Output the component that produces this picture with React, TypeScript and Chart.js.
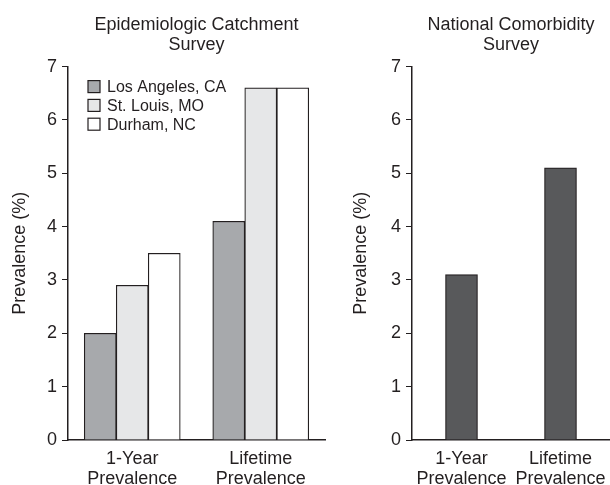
import React, { useEffect, useRef } from 'react';
import { Chart, registerables } from 'chart.js';

Chart.register(...registerables);

// ---- data ----
const categories = [['1-Year', 'Prevalence'], ['Lifetime', 'Prevalence']];
const ecaSites = ['Los Angeles, CA', 'St. Louis, MO', 'Durham, NC'];
const losAngeles = [2.0, 4.1];
const stLouis = [2.9, 6.6];
const durham = [3.5, 6.6];
const ncsLabel = 'National Comorbidity Survey';
const ncsValues = [3.1, 5.1];
const yTicks = [0, 1, 2, 3, 4, 5, 6, 7];
const ecaTitle = ['Epidemiologic Catchment', 'Survey'];
const ncsTitle = ['National Comorbidity', 'Survey'];
const yAxisTitle = 'Prevalence (%)';

// ---- style ----
const FONT = '"Liberation Sans", Arial, Helvetica, sans-serif';
const INK = '#231f20';
const ecaColors = ['#a7a9ac', '#e6e7e8', '#ffffff'];
const ncsColor = '#58595b';

const insideLegend = {
  id: 'insideLegend',
  afterDatasetsDraw(chart: any, _args: any, o: any) {
    if (!o || !o.show) return;
    const { ctx, chartArea } = chart;
    ctx.save();
    ctx.font = `16px ${FONT}`;
    ctx.textBaseline = 'middle';
    chart.data.datasets.forEach((ds: any, i: number) => {
      const cy = chartArea.top + 20 + i * 18.8;
      const x = chartArea.left + 20;
      ctx.fillStyle = ds.backgroundColor;
      ctx.fillRect(x, cy - 6, 12, 12);
      ctx.strokeStyle = INK;
      ctx.lineWidth = 1.2;
      ctx.strokeRect(x, cy - 6, 12, 12);
      ctx.fillStyle = INK;
      ctx.fillText(ds.label, x + 19, cy + 1);
    });
    ctx.restore();
  },
};

function buildOptions(title: string[], yWidth: number, yTitlePad: number, padRight: number, legend: boolean): any {
  return {
    responsive: false,
    animation: false,
    devicePixelRatio: 1,
    layout: { padding: { left: 0, right: padRight, top: 0, bottom: 0 } },
    plugins: {
      legend: { display: false },
      tooltip: { enabled: false },
      title: {
        display: true,
        text: title,
        color: INK,
        fullSize: false,
        font: { family: FONT, size: 18, weight: 'normal', lineHeight: 1.1 },
        padding: { top: 15, bottom: 12 },
      },
      insideLegend: { show: legend },
    },
    scales: {
      x: {
        type: 'category',
        offset: true,
        grid: { display: false, drawTicks: false, offset: true },
        border: { display: true, color: INK, width: 1.5 },
        ticks: {
          color: INK,
          font: { family: FONT, size: 18, lineHeight: 1.1 },
          padding: 9,
          maxRotation: 0,
          autoSkip: false,
        },
        afterFit: (s: any) => {
          s.height = 45;
          s.paddingLeft = 0;
          s.paddingRight = 0;
        },
      },
      y: {
        min: 0,
        max: 7,
        ticks: { stepSize: 1, color: INK, font: { family: FONT, size: 18 }, padding: 5 },
        afterBuildTicks: (s: any) => {
          s.ticks = yTicks.map((v) => ({ value: v }));
        },
        grid: { drawOnChartArea: false, drawTicks: true, tickLength: 6, color: INK, lineWidth: 1 },
        border: { display: true, color: INK, width: 1.5 },
        title: {
          display: true,
          text: yAxisTitle,
          color: INK,
          font: { family: FONT, size: 18 },
          padding: { top: yTitlePad, bottom: 0 },
        },
        afterFit: (s: any) => {
          s.width = yWidth;
          s.paddingTop = 0;
          s.paddingBottom = 0;
        },
      },
    },
  };
}

function EcaChart() {
  const ref = useRef<HTMLCanvasElement>(null);
  useEffect(() => {
    const chart = new Chart(ref.current as HTMLCanvasElement, {
      type: 'bar',
      data: {
        labels: categories as any,
        datasets: [losAngeles, stLouis, durham].map((d, i) => ({
          label: ecaSites[i],
          data: d,
          backgroundColor: ecaColors[i],
          borderColor: INK,
          borderWidth: 1.2,
          barThickness: 32,
        })),
      },
      options: buildOptions(ecaTitle, 68, 9, 5, true),
      plugins: [insideLegend],
    } as any);
    return () => chart.destroy();
  }, []);
  return <canvas ref={ref} width={330} height={485} />;
}

function NcsChart() {
  const ref = useRef<HTMLCanvasElement>(null);
  useEffect(() => {
    const chart = new Chart(ref.current as HTMLCanvasElement, {
      type: 'bar',
      data: {
        labels: categories as any,
        datasets: [
          {
            label: ncsLabel,
            data: ncsValues,
            backgroundColor: ncsColor,
            borderColor: INK,
            borderWidth: 1.2,
            barThickness: 32,
          },
        ],
      },
      options: buildOptions(ncsTitle, 82, 20, 0, false),
      plugins: [insideLegend],
    } as any);
    return () => chart.destroy();
  }, []);
  return <canvas ref={ref} width={280} height={485} />;
}

export default function App() {
  return (
    <div style={{ position: 'fixed', left: 0, top: 0, width: 610, height: 485, background: '#fff' }}>
      <div style={{ position: 'absolute', left: 0, top: 0, width: 330, height: 485 }}>
        <EcaChart />
      </div>
      <div style={{ position: 'absolute', left: 330, top: 0, width: 280, height: 485 }}>
        <NcsChart />
      </div>
    </div>
  );
}
